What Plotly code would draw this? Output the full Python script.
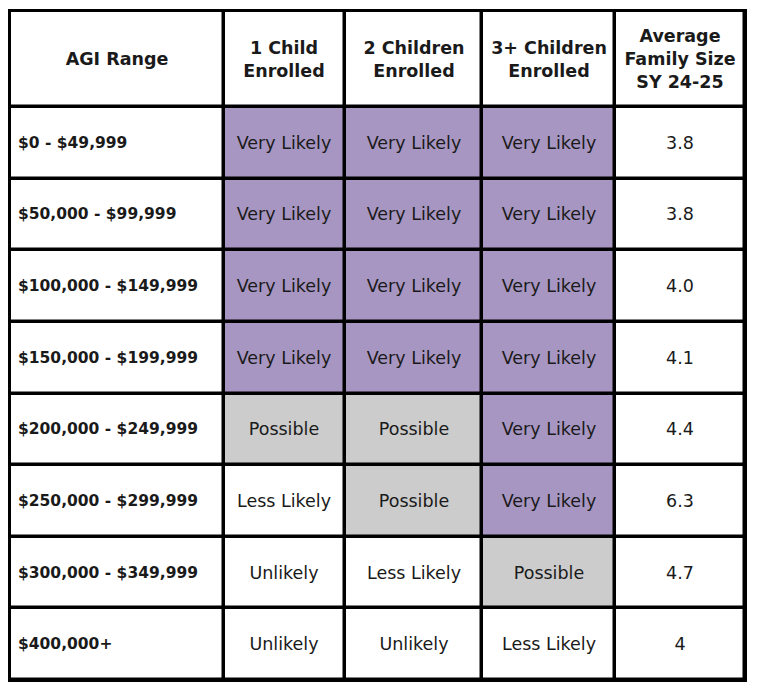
import plotly.graph_objects as go

# table content
headers = ["AGI Range", "1 Child<br>Enrolled", "2 Children<br>Enrolled",
           "3+ Children<br>Enrolled", "Average<br>Family Size<br>SY 24-25"]

agi_ranges = ["$0 - $49,999", "$50,000 - $99,999", "$100,000 - $149,999",
              "$150,000 - $199,999", "$200,000 - $249,999", "$250,000 - $299,999",
              "$300,000 - $349,999", "$400,000+"]

one_child = ["Very Likely", "Very Likely", "Very Likely", "Very Likely",
             "Possible", "Less Likely", "Unlikely", "Unlikely"]
two_children = ["Very Likely", "Very Likely", "Very Likely", "Very Likely",
                "Possible", "Possible", "Less Likely", "Unlikely"]
three_children = ["Very Likely", "Very Likely", "Very Likely", "Very Likely",
                  "Very Likely", "Very Likely", "Possible", "Less Likely"]
family_size = ["3.8", "3.8", "4.0", "4.1", "4.4", "6.3", "4.7", "4"]

# likelihood -> shade level (0 white, 1 grey, 2 purple)
level = {"Very Likely": 2, "Possible": 1, "Less Likely": 0, "Unlikely": 0}

# grid geometry (pixel units)
col_widths = [213.5, 121.5, 137, 133, 130]
header_h = 96
row_h = 71.6

x_edges = [0]
for w in col_widths:
    x_edges.append(x_edges[-1] + w)
y_edges = [0, header_h]
for _ in agi_ranges:
    y_edges.append(y_edges[-1] + row_h)

n = len(agi_ranges)
z = [[0] * 5]
text = [[f"<b>{h}</b>" for h in headers]]
for i in range(n):
    z.append([0, level[one_child[i]], level[two_children[i]],
              level[three_children[i]], 0])
    text.append(["", one_child[i], two_children[i], three_children[i],
                 family_size[i]])

fig = go.Figure(go.Heatmap(
    x=x_edges, y=y_edges, z=z, text=text, texttemplate="%{text}",
    textfont=dict(family="DejaVu Sans", size=17.5, color="#1a1a1a"),
    colorscale=[[0, "white"], [0.5, "#cccccc"], [1, "#a896c2"]],
    zmin=0, zmax=2, showscale=False, xgap=3.5, ygap=3.5, hoverinfo="skip",
))

# first column labels, left aligned
for i, a in enumerate(agi_ranges):
    fig.add_annotation(x=x_edges[0], y=(y_edges[i + 1] + y_edges[i + 2]) / 2,
                       xref="x", yref="y", text=f"<b>{a}</b>", showarrow=False,
                       xanchor="left", xshift=6,
                       font=dict(family="DejaVu Sans", size=15.5, color="#1a1a1a"))

fig.update_xaxes(range=[x_edges[0], x_edges[-1]], showticklabels=False,
                 showgrid=False, zeroline=False, ticks="",
                 showline=True, mirror=True, linecolor="black", linewidth=2)
fig.update_yaxes(range=[y_edges[-1], y_edges[0]], showticklabels=False,
                 showgrid=False, zeroline=False, ticks="",
                 showline=True, mirror=True, linecolor="black", linewidth=2)

fig.update_layout(width=768, height=695,
                  margin=dict(l=2, r=31, t=3, b=23, pad=0),
                  plot_bgcolor="black", paper_bgcolor="white")
fig.write_html("out.html")
